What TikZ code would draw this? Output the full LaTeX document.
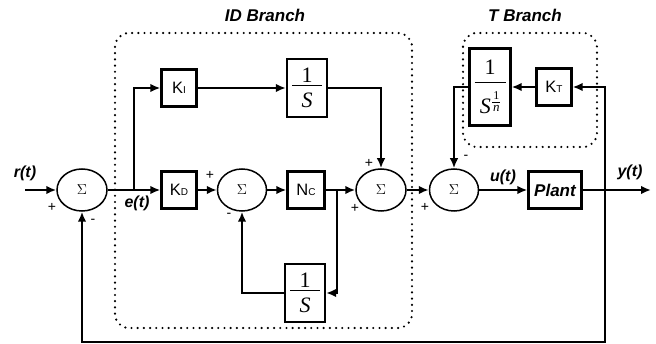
\documentclass[tikz,border=0pt]{standalone}
\usepackage{fontspec}
\setmainfont{Liberation Sans}
\newfontfamily\tms{Liberation Serif}
\usetikzlibrary{arrows.meta,shapes.geometric,calc}
\newcommand{\subf}[1]{{\fontsize{10}{10}\selectfont #1}}
\newcommand{\fracS}{{\tms\fontsize{22}{22}\selectfont\vbox{\offinterlineskip
  \hbox to 30pt{\hfil 1\hfil}\kern3pt\hrule height 1pt\kern7pt
  \hbox to 30pt{\hfil\itshape S\hfil}}}}
\newcommand{\fracSn}{{\tms\fontsize{22}{22}\selectfont\vbox{\offinterlineskip
  \hbox to 31pt{\hfil 1\hfil}\kern8pt\hrule height 1pt\kern8pt
  \hbox to 31pt{\hfil\itshape S\upshape\kern1.5pt\raise2.5pt\vbox{\offinterlineskip
     \hbox to 8pt{\hfil\fontsize{12}{12}\selectfont 1\hfil}\kern2.5pt\hrule height .6pt\kern3pt
     \hbox to 8pt{\hfil\fontsize{13}{13}\selectfont\itshape n\hfil}}\hfil}}}}
\begin{document}
\begin{tikzpicture}[x=1pt,y=-1pt,
  blk/.style={draw, line width=2.3pt, minimum width=35pt, minimum height=37pt, inner sep=0pt,
     font=\fontsize{16.5}{17}\selectfont},
  sumn/.style={draw, ellipse, line width=1.5pt, minimum width=50pt, minimum height=42pt,
     inner sep=0pt, font=\fontsize{14}{14}\selectfont},
  conn/.style={line width=2pt},
  arr/.style={conn, -{Latex[length=10pt,width=8.5pt]}},
  lbl/.style={font=\fontsize{16}{16}\selectfont\bfseries\itshape, inner sep=0pt},
  ttl/.style={font=\fontsize{17}{17}\selectfont\bfseries\itshape, inner sep=0pt},
  sgn/.style={font=\fontsize{14}{14}\selectfont, inner sep=0pt},
  dotbox/.style={line width=2.4pt, dash pattern=on 0pt off 6.2pt, line cap=round, rounded corners=14pt}
]
\useasboundingbox (0,0) rectangle (656,344);
% dotted groups
\draw[dotbox] (115,33) rectangle (412,328);
\draw[dotbox] (463,33) rectangle (597,147);
\node[ttl] (tid) at (265,15) {ID Branch};
\node[ttl] (tt) at (525,15) {T Branch};
% summing junctions
\node[sumn] (s1) at (82,190) {$\Sigma$};
\node[sumn, minimum width=49pt] (s2) at (242,190) {$\Sigma$};
\node[sumn] (s3) at (381,190) {$\Sigma$};
\node[sumn, minimum width=49pt] (s4) at (454,190) {$\Sigma$};
% blocks
\node[blk] (kd) at (179,190) {K\subf{D}};
\node[blk, minimum width=37pt] (nc) at (306,190) {N\subf{C}};
\node[blk] (ki) at (179,88) {K\subf{I}};
\node[blk, minimum width=40pt, minimum height=58pt] (is1) at (307,88) {\fracS};
\node[blk, minimum width=40pt, minimum height=58pt] (is2) at (305,293) {\fracS};
\node[blk, minimum width=53pt, font=\fontsize{17}{17}\selectfont\bfseries\itshape] (plant) at (555,190) {Plant};
\node[blk] (kt) at (554,87) {K\subf{T}};
\node[blk, minimum width=41pt, minimum height=77pt] (isn) at (490,87) {\fracSn};
% coordinates
\coordinate (in) at (25,190);
\coordinate (br1) at (134,190);
\coordinate (br2) at (337,190);
\coordinate (br3) at (605,190);
\coordinate (out) at (651,190);
% connectors
\draw[arr] (in) -- (s1.west);
\draw[arr] (s1.east) -- (kd.west);
\draw[arr] (br1) |- (ki.west);
\draw[arr] (ki.east) -- (is1.west);
\draw[arr] (is1.east) -| (s3.north);
\draw[arr] (kd.east) -- (s2.west);
\draw[arr] (s2.east) -- (nc.west);
\draw[arr] (nc.east) -- (s3.west);
\draw[arr] (br2) |- (is2.east);
\draw[arr] (is2.west) -| (s2.south);
\draw[arr] (s3.east) -- (s4.west);
\draw[arr] (s4.east) -- (plant.west);
\draw[arr] (plant.east) -- (out);
\draw[arr] (br3) |- (kt.east);
\draw[arr] (kt.west) -- (isn.east);
\draw[arr] (isn.west) -| (s4.north);
\draw[arr] (br3) -- ++(0,152) -| (s1.south);
% labels
\node[lbl] (lr) at (25,173) {r(t)};
\node[lbl] (le) at (137,203) {e(t)};
\node[lbl] (lu) at (503,177) {u(t)};
\node[lbl] (ly) at (630,172) {y(t)};
% signs
\node[sgn] (p1) at (52,207) {+};
\node[sgn] (m1) at (93,221) {-};
\node[sgn] (p2) at (210,175) {+};
\node[sgn] (m2) at (229,215) {-};
\node[sgn] (p3a) at (369,163) {+};
\node[sgn] (p3b) at (355,208) {+};
\node[sgn] (p4) at (425,207) {+};
\node[sgn] (m4) at (466,157) {-};
\end{tikzpicture}
\end{document}
